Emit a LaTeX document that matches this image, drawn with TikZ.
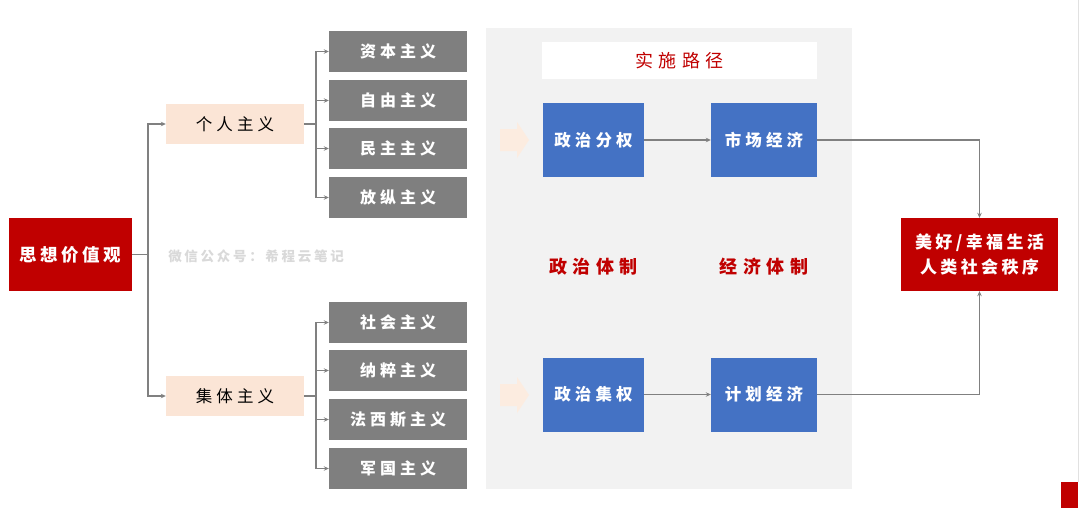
\documentclass[tikz,border=0pt]{standalone}
\usepackage{fontspec}
\newfontfamily\cjkA[LetterSpace=25]{Noto Sans CJK SC}
\newfontfamily\cjkB[LetterSpace=20]{Noto Sans CJK SC}
\newfontfamily\cjkC[LetterSpace=30]{Noto Sans CJK SC}
\usetikzlibrary{arrows.meta}
\definecolor{darkred}{HTML}{C00000}
\definecolor{boxgray}{HTML}{7F7F7F}
\definecolor{boxblue}{HTML}{4472C4}
\definecolor{peach}{HTML}{FBE5D6}
\definecolor{panelgray}{HTML}{F2F2F2}
\definecolor{linegray}{HTML}{808080}
\definecolor{markgray}{HTML}{D9D9D9}
\tikzset{
  base/.style={inner sep=0pt, align=center},
  redbox/.style={base, fill=darkred, text=white, font=\cjkB\bfseries\fontsize{17.5}{21}\selectfont},
  peachbox/.style={base, fill=peach, text=black, minimum width=138pt, minimum height=40pt, font=\cjkA\fontsize{16.5}{18}\selectfont},
  graybox/.style={base, fill=boxgray, text=white, minimum width=138pt, minimum height=41pt, font=\cjkA\bfseries\fontsize{16}{18}\selectfont},
  bluebox/.style={base, fill=boxblue, text=white, minimum height=74pt, font=\cjkA\bfseries\fontsize{16.5}{18}\selectfont},
  conn/.style={draw=linegray, line width=1.2pt},
  arr/.style={conn, -{Stealth[length=5pt,width=4.5pt]}},
  redlabel/.style={base, text=darkred, font=\cjkC\bfseries\fontsize{18}{20}\selectfont},
}
\begin{document}
\begin{tikzpicture}[x=1pt,y=-1pt]
\useasboundingbox (0,0) rectangle (1080,514);
\fill[white] (0,0) rectangle (1080,514);
% right edge line and small red mark
\draw[markgray!80, line width=0.8pt] (1078,0) -- (1078,482);
\fill[darkred] (1061,482) rectangle (1078,508);
% panel
\fill[panelgray] (486,28) rectangle (852,489);
\node[base, fill=white, minimum width=275pt, minimum height=37pt, text=darkred, font=\cjkC\fontsize{18}{20}\selectfont] (route) at (679.5,60.5) {实施路径};
% left
\node[redbox, minimum width=123pt, minimum height=73pt] (root) at (70.5,254.5) {思想价值观};
\node[peachbox] (ind) at (235,124) {个人主义};
\node[peachbox] (col) at (235,396) {集体主义};
\node[base, text=markgray, font=\cjkB\bfseries\fontsize{13.5}{15}\selectfont] (wm) at (256,256) {微信公众号：希程云笔记};
% gray boxes
\node[graybox] (a1) at (398,51.5) {资本主义};
\node[graybox] (a2) at (398,100.5) {自由主义};
\node[graybox] (a3) at (398,148.5) {民主主义};
\node[graybox] (a4) at (398,197.5) {放纵主义};
\node[graybox] (c1) at (398,322.5) {社会主义};
\node[graybox] (c2) at (398,370.5) {纳粹主义};
\node[graybox] (c3) at (398,419.5) {法西斯主义};
\node[graybox] (c4) at (398,468.5) {军国主义};
% blue boxes
\node[bluebox, minimum width=101pt] (p1) at (593.5,140) {政治分权};
\node[bluebox, minimum width=106pt] (e1) at (764,140) {市场经济};
\node[bluebox, minimum width=101pt] (p2) at (593.5,394.5) {政治集权};
\node[bluebox, minimum width=106pt] (e2) at (764,394.5) {计划经济};
\node[redlabel] (pl) at (593.5,267) {政治体制};
\node[redlabel] (el) at (764,267) {经济体制};
% right red box
\node[redbox, minimum width=157pt, minimum height=73pt, font=\cjkB\bfseries\fontsize{17}{25}\selectfont] (goal) at (979.5,254.5) {美好/幸福生活\\人类社会秩序};
% pink arrows
\foreach \yy in {140,395} {
  \fill[peach!75] (500,\yy-11) -- (517,\yy-11) -- (517,\yy-18) -- (529,\yy) -- (517,\yy+18) -- (517,\yy+11) -- (500,\yy+11) -- cycle;
}
% connectors
\coordinate (mid) at (148,254.5);
\draw[conn] (root.east) -- (mid);
\draw[arr] (mid) |- (ind.west);
\draw[arr] (mid) |- (col.west);
\coordinate (ja) at (316,124);
\coordinate (jc) at (316,396);
\draw[conn] (ind.east) -- (ja);
\draw[conn] (col.east) -- (jc);
\foreach \n in {a1,a2,a3,a4} { \draw[arr] (ja) |- (\n.west); }
\foreach \n in {c1,c2,c3,c4} { \draw[arr] (jc) |- (\n.west); }
\draw[arr] (p1) -- (e1);
\draw[arr] (p2) -- (e2);
\draw[arr] (e1.east) -| (goal.north);
\draw[arr] (e2.east) -| (goal.south);
\end{tikzpicture}
\end{document}
